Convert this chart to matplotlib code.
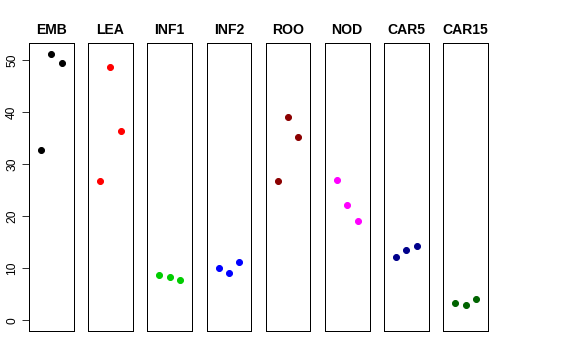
import matplotlib
matplotlib.use("Agg")
import matplotlib.pyplot as plt

plt.rcParams['font.family'] = ['Liberation Sans', 'DejaVu Sans']

Tissues = ["EMB", "LEA", "INF1", "INF2", "ROO", "NOD", "CAR5", "CAR15"]
Colors = ["black", "red", "#00CD00", "blue", "#8B0000", "magenta", "#00008B", "#006400"]
Reps = [1, 2, 3]
EMB = [32.7, 51.2, 49.4]
LEA = [26.7, 48.7, 36.3]
INF1 = [8.8, 8.4, 7.7]
INF2 = [10.1, 9.1, 11.2]
ROO = [26.7, 39.1, 35.2]
NOD = [26.9, 22.1, 19.1]
CAR5 = [12.1, 13.6, 14.3]
CAR15 = [3.3, 2.9, 4.1]
Values = [EMB, LEA, INF1, INF2, ROO, NOD, CAR5, CAR15]

fig = plt.figure(figsize=(8, 5), dpi=72)
W, H = 576.0, 360.0
for i, (name, col, vals) in enumerate(zip(Tissues, Colors, Values)):
    left = 29 + 59.2 * i
    ax = fig.add_axes([left / W, 29 / H, 44.5 / W, 287.7 / H])
    ax.plot(Reps, vals, "o", color=col, ms=6, mec=col)
    ax.set_xlim(-0.16, 4.16)
    ax.set_ylim(-2.05, 53.25)
    ax.set_xticks([])
    ax.set_title(name, fontsize=14, fontweight="bold", pad=9)
    for s in ax.spines.values():
        s.set_linewidth(1)
    if i == 0:
        ax.set_yticks([0, 10, 20, 30, 40, 50])
        ax.tick_params(axis="y", length=7, pad=4, labelsize=12)
        for t in ax.get_yticklabels():
            t.set_rotation(90)
            t.set_va("center")
    else:
        ax.set_yticks([])

plt.savefig("out.png", dpi=72)
